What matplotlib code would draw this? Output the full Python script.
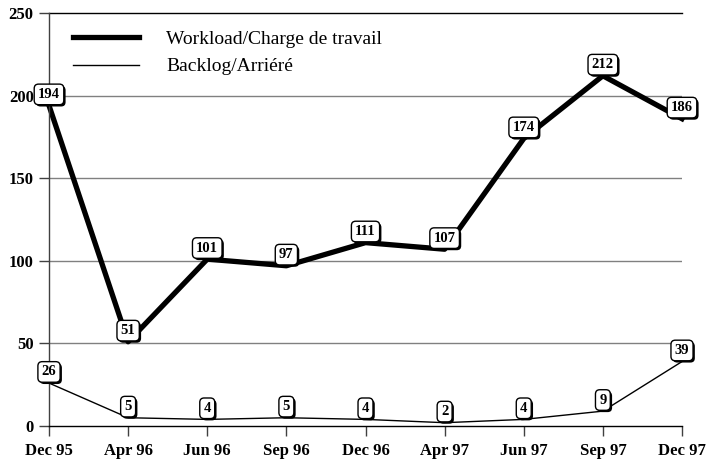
import matplotlib
matplotlib.use("Agg")
import matplotlib.pyplot as plt
import matplotlib.patheffects as pe

categories = ["Dec 95", "Apr 96", "Jun 96", "Sep 96", "Dec 96", "Apr 97", "Jun 97", "Sep 97", "Dec 97"]
workload = [194, 51, 101, 97, 111, 107, 174, 212, 186]
backlog = [26, 5, 4, 5, 4, 2, 4, 9, 39]
yticks = [0, 50, 100, 150, 200, 250]

plt.rcParams['font.family'] = ['Liberation Serif', 'DejaVu Serif']

fig = plt.figure(figsize=(7.07, 4.66), dpi=100)
ax = fig.add_axes([49/707, 1-426/466, (682-49)/707, (426-13)/466])
x = list(range(len(categories)))

ax.set_xlim(0, len(categories)-1)
ax.set_ylim(0, 250)
for y in yticks[1:-1]:
    ax.axhline(y, color='#808080', lw=1.0, zorder=0)
ax.axhline(250, color='black', lw=1.0, zorder=0, clip_on=False)

lw1, = ax.plot(x, workload, color='black', lw=3.8, solid_joinstyle='round', clip_on=False, zorder=2,
               label='Workload/Charge de travail')
lw2, = ax.plot(x, backlog, color='black', lw=1.0, clip_on=False, zorder=2, label='Backlog/Arriéré')

for s in ['top', 'right']:
    ax.spines[s].set_visible(False)
ax.spines['left'].set_color('#404040')
ax.spines['bottom'].set_color('black')
ax.spines['left'].set_linewidth(1.0)
ax.spines['bottom'].set_linewidth(1.0)

ax.set_xticks(x)
ax.set_xticklabels(categories, fontsize=12, fontweight='bold')
ax.set_yticks(yticks)
ax.set_yticklabels([str(v) for v in yticks], fontsize=12, fontweight='bold')
ax.tick_params(axis='x', length=7, width=1, color='#404040', pad=5)
ax.tick_params(axis='y', length=7, width=1, color='#404040', pad=4)

def label(xi, yi):
    t = ax.annotate(str(yi), (xi, yi), xytext=(0, 8), textcoords='offset points',
                    ha='center', va='center', fontsize=10.5, fontweight='bold', zorder=5,
                    annotation_clip=False,
                    bbox=dict(boxstyle='round,pad=0.26,rounding_size=0.3', fc='white', ec='black', lw=1.0))
    t.get_bbox_patch().set_path_effects([pe.SimplePatchShadow(offset=(1.3, -1.3), shadow_rgbFace='black', alpha=1.0), pe.Normal()])

for xi, yi in zip(x, workload):
    label(xi, yi)
for xi, yi in zip(x, backlog):
    label(xi, yi)

leg = ax.legend(handles=[lw1, lw2], loc='upper left', bbox_to_anchor=(0.01, 1.0), frameon=False,
                fontsize=14, handlelength=3.4, handletextpad=1.4, labelspacing=0.5)

fig.savefig("out.png", dpi=100)
